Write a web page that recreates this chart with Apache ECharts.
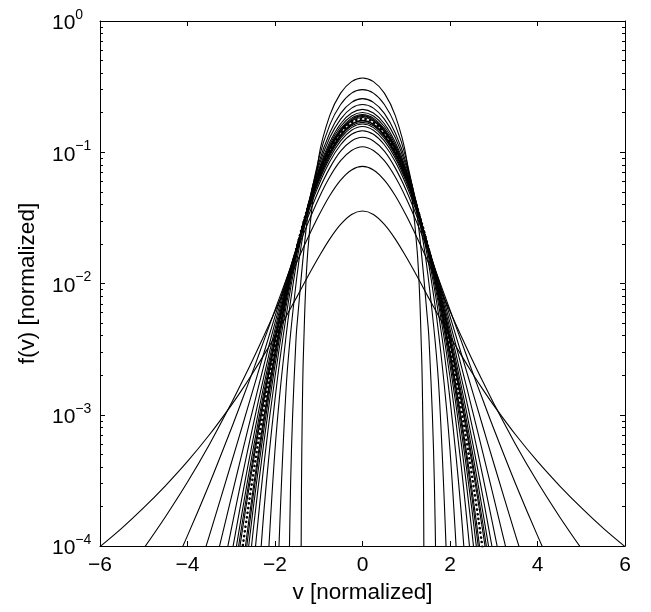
<!DOCTYPE html>
<html><head><meta charset="utf-8">
<script src="https://cdn.jsdelivr.net/npm/echarts@6/dist/echarts.min.js"></script>
<style>html,body{margin:0;padding:0;background:#fff}#c{width:651px;height:612px}</style>
</head><body><div id="c"></div>
<script>
// speed grid (normalized v, one side; curves are symmetric about v = 0)
var vGrid = [0, 0.25, 0.5, 0.75, 1, 1.25, 1.5, 1.75, 2, 2.25, 2.5, 2.75, 3, 3.5, 4, 4.5, 5, 5.5, 6];

// compact-support curves (highest peaks), values at vGrid
var c0 = [3.68e-1, 3.45e-1, 2.82e-1, 1.90e-1, 9.20e-2, 1.76e-2];
var c0Edge = [[1.349, 3e-3], [1.377, 1e-3], [1.394, 3e-4], [1.406, 5e-5]];
var c1 = [3.00e-1, 2.82e-1, 2.31e-1, 1.61e-1, 8.89e-2, 3.30e-2, 4.69e-3];
var c1Edge = [[1.534, 3e-3], [1.597, 1e-3], [1.643, 3e-4], [1.684, 5e-5]];
var c2 = [2.56e-1, 2.40e-1, 1.98e-1, 1.40e-1, 8.26e-2, 3.75e-2, 1.13e-2, 1.51e-3, 1.30e-5];
var c3 = [2.31e-1, 2.17e-1, 1.79e-1, 1.29e-1, 7.83e-2, 3.91e-2, 1.50e-2, 3.91e-3, 5.39e-4, 2.00e-5];
var c4 = [2.12e-1, 1.99e-1, 1.65e-1, 1.19e-1, 7.41e-2, 3.89e-2, 1.67e-2, 5.53e-3, 1.31e-3, 1.90e-4, 1.27e-5];
var c5 = [2.01e-1, 1.89e-1, 1.57e-1, 1.14e-1, 7.16e-2, 3.87e-2, 1.76e-2, 6.59e-3, 1.94e-3, 4.26e-4, 6.41e-5];
var c6 = [1.94e-1, 1.82e-1, 1.51e-1, 1.10e-1, 6.98e-2, 3.85e-2, 1.82e-2, 7.24e-3, 2.39e-3, 6.33e-4, 1.30e-4, 1.98e-5];
var c7 = [1.90e-1, 1.78e-1, 1.48e-1, 1.08e-1, 6.87e-2, 3.83e-2, 1.85e-2, 7.67e-3, 2.69e-3, 7.91e-4, 1.91e-4, 3.68e-5];
var c8 = [1.87e-1, 1.75e-1, 1.45e-1, 1.06e-1, 6.80e-2, 3.82e-2, 1.87e-2, 7.94e-3, 2.90e-3, 9.04e-4, 2.38e-4, 5.22e-5];
var c9 = [1.84e-1, 1.73e-1, 1.43e-1, 1.05e-1, 6.73e-2, 3.80e-2, 1.88e-2, 8.09e-3, 3.03e-3, 9.79e-4, 2.72e-4, 6.42e-5];

// Maxwellian reference (dotted)
var gauss = [1.80e-1, 1.69e-1, 1.40e-1, 1.02e-1, 6.62e-2, 3.77e-2, 1.90e-2, 8.41e-3, 3.29e-3, 1.14e-3, 3.47e-4, 9.35e-5];

// heavy-tailed curves (lower peaks)
var h9 = [1.75e-1, 1.64e-1, 1.36e-1, 9.99e-2, 6.48e-2, 3.73e-2, 1.90e-2, 8.69e-3, 3.54e-3, 1.30e-3, 4.30e-4, 1.29e-4, 3.52e-5];
var h8 = [1.73e-1, 1.62e-1, 1.34e-1, 9.86e-2, 6.41e-2, 3.70e-2, 1.91e-2, 8.81e-3, 3.67e-3, 1.38e-3, 4.74e-4, 1.49e-4, 4.32e-5];
var h7 = [1.69e-1, 1.59e-1, 1.32e-1, 9.68e-2, 6.31e-2, 3.67e-2, 1.91e-2, 9.00e-3, 3.85e-3, 1.51e-3, 5.44e-4, 1.82e-4, 5.73e-5];
var h6 = [1.64e-1, 1.54e-1, 1.28e-1, 9.41e-2, 6.17e-2, 3.62e-2, 1.92e-2, 9.27e-3, 4.12e-3, 1.70e-3, 6.55e-4, 2.39e-4, 8.34e-5];
var h5 = [1.57e-1, 1.47e-1, 1.22e-1, 9.02e-2, 5.95e-2, 3.54e-2, 1.92e-2, 9.62e-3, 4.50e-3, 1.98e-3, 8.35e-4, 3.39e-4, 1.34e-4, 1.97e-5];
var h4 = [1.46e-1, 1.37e-1, 1.14e-1, 8.46e-2, 5.63e-2, 3.42e-2, 1.92e-2, 1.01e-2, 5.02e-3, 2.41e-3, 1.12e-3, 5.15e-4, 2.34e-4, 4.77e-5];
var h3 = [1.30e-1, 1.22e-1, 1.02e-1, 7.57e-2, 5.12e-2, 3.19e-2, 1.86e-2, 1.04e-2, 5.62e-3, 2.98e-3, 1.56e-3, 8.14e-4, 4.27e-4, 1.20e-4, 3.57e-5];
var h2 = [1.10e-1, 1.03e-1, 8.62e-2, 6.47e-2, 4.45e-2, 2.87e-2, 1.77e-2, 1.06e-2, 6.28e-3, 3.70e-3, 2.18e-3, 1.30e-3, 7.83e-4, 2.97e-4, 1.20e-4, 5.12e-5];
var h1 = [7.80e-2, 7.33e-2, 6.13e-2, 4.66e-2, 3.29e-2, 2.22e-2, 1.46e-2, 9.45e-3, 6.14e-3, 4.02e-3, 2.66e-3, 1.79e-3, 1.22e-3, 5.94e-4, 3.07e-4, 1.68e-4, 9.59e-5];
var h0 = [3.57e-2, 3.36e-2, 2.82e-2, 2.18e-2, 1.59e-2, 1.13e-2, 7.91e-3, 5.58e-3, 3.97e-3, 2.87e-3, 2.10e-3, 1.56e-3, 1.18e-3, 7.04e-4, 4.41e-4, 2.89e-4, 1.96e-4, 1.37e-4, 9.90e-5];

// axis ticks
var xTicks = [-6, -4, -2, 0, 2, 4, 6];
var yDecades = [-4, -3, -2, -1, 0];

function mirror(vals, edge) {
  var pts = vals.map(function (f, i) { return [vGrid[i], f]; }).concat(edge || []);
  var left = pts.slice(1).reverse().map(function (p) { return [-p[0], p[1]]; });
  return left.concat(pts);
}

var solidCurves = [
  [c0, c0Edge], [c1, c1Edge], [c2], [c3], [c4], [c5], [c6], [c7], [c8], [c9],
  [h9], [h8], [h7], [h6], [h5], [h4], [h3], [h2], [h1], [h0]
];

var series = solidCurves.map(function (c) {
  return {
    type: 'line', data: mirror(c[0], c[1]), showSymbol: false, symbol: 'none',
    smooth: 0.35, clip: true, silent: true, animation: false,
    lineStyle: { color: '#000', width: 1.1 }
  };
});
series.push({
  type: 'line', data: mirror(gauss), showSymbol: false, symbol: 'none',
  smooth: 0.35, clip: true, silent: true, animation: false, z: 5,
  lineStyle: { color: '#000', width: 2.6, type: [0.1, 4.6], cap: 'round' }
});

// minor tick positions (log space) for the log axis
var minorLog = [];
yDecades.slice(0, 4).forEach(function (d) {
  for (var k = 2; k <= 9; k++) minorLog.push(d + Math.log10(k));
});
var majorLog = yDecades.slice();

var FONT = 'Liberation Sans, Arial, Helvetica, sans-serif';
function supLabel(v) {
  var e = Math.round(Math.log10(v));
  var s = e < 0 ? '\u2212' + (-e) : '' + e;
  return '{b|10}{s|' + s + '}';
}

var frameX = {
  type: 'value', min: -6, max: 6, interval: 2,
  axisLine: { show: true, onZero: false, lineStyle: { color: '#000', width: 1 } },
  axisTick: { show: true, inside: true, length: 5, lineStyle: { color: '#000', width: 1 } },
  splitLine: { show: false }
};

function tickAxis(pos, vals, len, line) {
  return {
    type: 'value', min: -4, max: 0, position: pos,
    axisLine: { show: !!line, onZero: false, lineStyle: { color: '#000', width: 1 } },
    axisLabel: { show: false }, splitLine: { show: false },
    axisTick: { show: true, inside: true, length: len, customValues: vals, lineStyle: { color: '#000', width: 1 } }
  };
}

var option = {
  backgroundColor: '#fff',
  animation: false,
  grid: { left: 100, right: 26, top: 21, bottom: 66, containLabel: false },
  xAxis: [
    Object.assign({}, frameX, {
      position: 'bottom',
      name: 'v [normalized]', nameLocation: 'middle', nameGap: 30,
      nameTextStyle: { fontFamily: FONT, fontSize: 22.5, color: '#000' },
      axisLabel: {
        show: true, margin: 9, fontFamily: FONT, fontSize: 21, color: '#000',
        customValues: xTicks,
        formatter: function (v) { return String(v).replace('-', '\u2212'); }
      }
    }),
    Object.assign({}, frameX, { position: 'top', axisLabel: { show: false } })
  ],
  yAxis: [
    {
      type: 'log', logBase: 10, min: 1e-4, max: 1, position: 'left',
      name: 'f(v) [normalized]', nameLocation: 'middle', nameGap: 61,
      nameTextStyle: { fontFamily: FONT, fontSize: 22.5, color: '#000' },
      axisLine: { show: true, onZero: false, lineStyle: { color: '#000', width: 1 } },
      axisTick: { show: false },
      splitLine: { show: false },
      axisLabel: {
        show: true, margin: 48, align: 'left', formatter: supLabel,
        rich: {
          b: { fontFamily: FONT, fontSize: 21, color: '#000', verticalAlign: 'bottom', lineHeight: 26 },
          s: { fontFamily: FONT, fontSize: 14, color: '#000', verticalAlign: 'top', lineHeight: 26 }
        }
      }
    },
    tickAxis('left', majorLog, 5, false),
    tickAxis('left', minorLog, 3, false),
    tickAxis('right', majorLog, 5, true),
    tickAxis('right', minorLog, 3, false)
  ],
  series: series
};

var chart = echarts.init(document.getElementById('c'), null, { renderer: 'canvas' });
chart.setOption(option);
</script></body></html>
